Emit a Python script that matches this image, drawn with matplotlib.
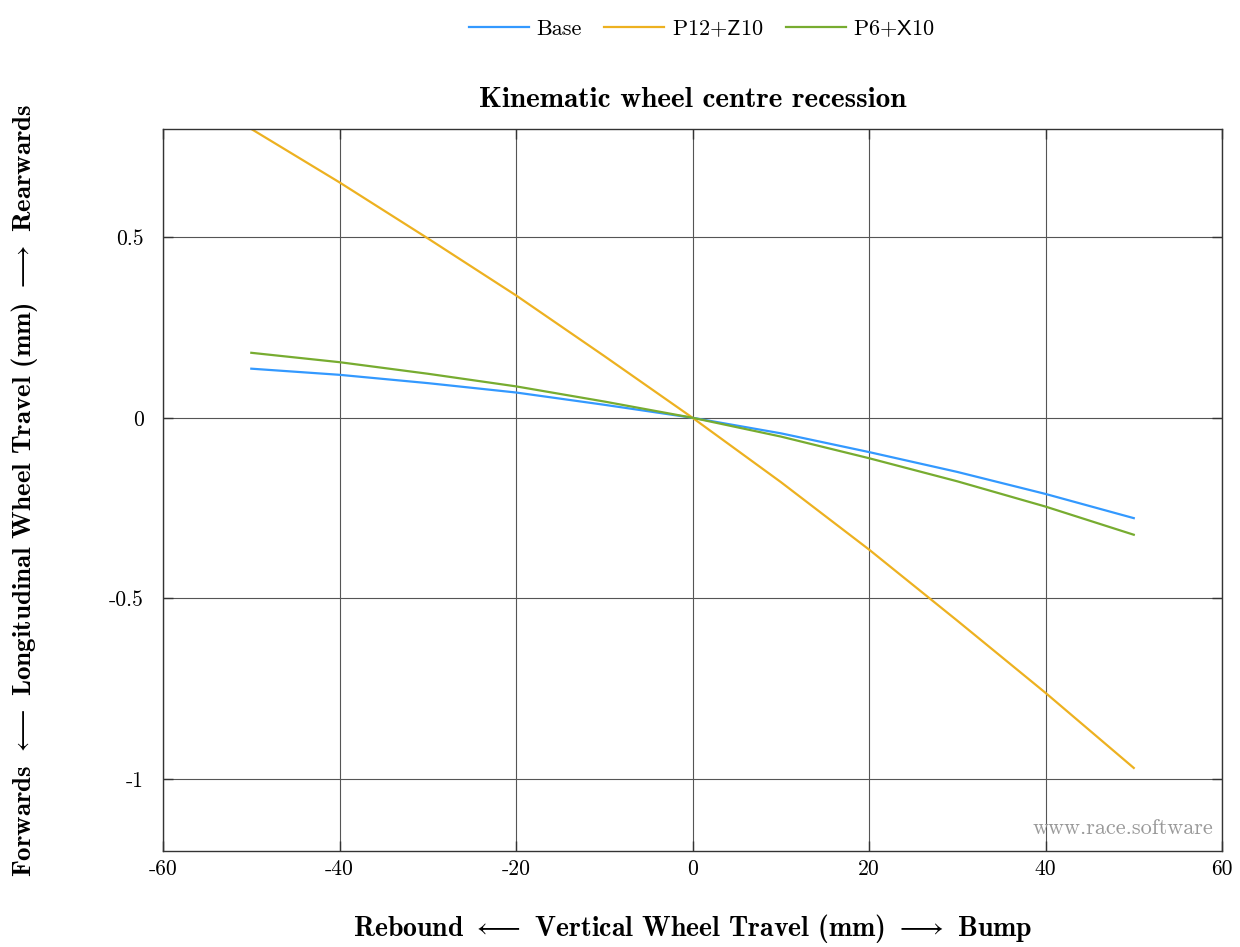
import numpy as np
import matplotlib.pyplot as plt
from matplotlib.ticker import FuncFormatter

plt.rcParams['font.family'] = 'cmr10'
plt.rcParams['mathtext.fontset'] = 'cm'
plt.rcParams['axes.unicode_minus'] = False
plt.rcParams['axes.formatter.use_mathtext'] = False

# vertical wheel travel (mm)
travel = [-50, -40, -30, -20, -10, 0, 10, 20, 30, 40, 50]

# longitudinal wheel centre movement (mm)
base = [0.136, 0.119, 0.096, 0.070, 0.036, 0.0, -0.043, -0.095, -0.150, -0.211, -0.278]
p12_z10 = [0.800, 0.652, 0.497, 0.339, 0.171, 0.0, -0.178, -0.365, -0.562, -0.762, -0.970]
p6_x10 = [0.180, 0.154, 0.122, 0.087, 0.045, 0.0, -0.052, -0.112, -0.176, -0.246, -0.324]

names = ['Base', r'P12$\mathsf{+Z}$10', r'P6$\mathsf{+X}$10']
colours = ['#3399ff', '#edb120', '#77ac30']

fig = plt.figure(figsize=(12.4, 9.47), dpi=100)
ax = fig.add_axes([0.1315, 0.1014, 0.854, 0.7624])

for ys, name, c in zip([base, p12_z10, p6_x10], names, colours):
    ax.plot(travel, ys, color=c, lw=1.6, label=name)

ax.set_xlim(-60, 60)
ax.set_ylim(-1.2, 0.8)
ax.set_xticks(np.arange(-60, 61, 20))
ax.set_yticks([-1, -0.5, 0, 0.5])
ax.yaxis.set_major_formatter(FuncFormatter(lambda v, p: '%g' % v))
ax.xaxis.set_major_formatter(FuncFormatter(lambda v, p: '%g' % v))
ax.grid(True, color='#555555', lw=0.8)
ax.set_axisbelow(True)
ax.tick_params(direction='in', length=7, width=1, top=True, right=True,
               labelsize=15.5, color='#333333')
ax.tick_params(axis='x', pad=6)
ax.tick_params(axis='y', pad=14)
for s in ax.spines.values():
    s.set_color('#333333')
    s.set_linewidth(1)

ax.set_title('Kinematic wheel centre recession', fontfamily='cmb10',
             fontsize=21, pad=16)
ax.set_xlabel(r'Rebound $\longleftarrow$ Vertical Wheel Travel (mm) $\longrightarrow$ Bump',
              fontfamily='cmb10', fontsize=20, va='center')
ax.set_ylabel(r'Forwards $\longleftarrow$ Longitudinal Wheel Travel (mm) $\longrightarrow$ Rearwards',
              fontfamily='cmb10', fontsize=19.4, va='center')
ax.xaxis.set_label_coords(0.5, -0.107)
ax.yaxis.set_label_coords(-0.131, 0.5)

ax.text(0.992, 0.018, 'www.race.software', transform=ax.transAxes,
        ha='right', va='bottom', color='#999999', fontsize=16)

fig.legend(loc='upper center', bbox_to_anchor=(0.566, 1.002), ncol=3,
           frameon=False, fontsize=16, handlelength=2.7, columnspacing=1.0,
           handletextpad=0.35)

fig.savefig('out.png', dpi=100)
